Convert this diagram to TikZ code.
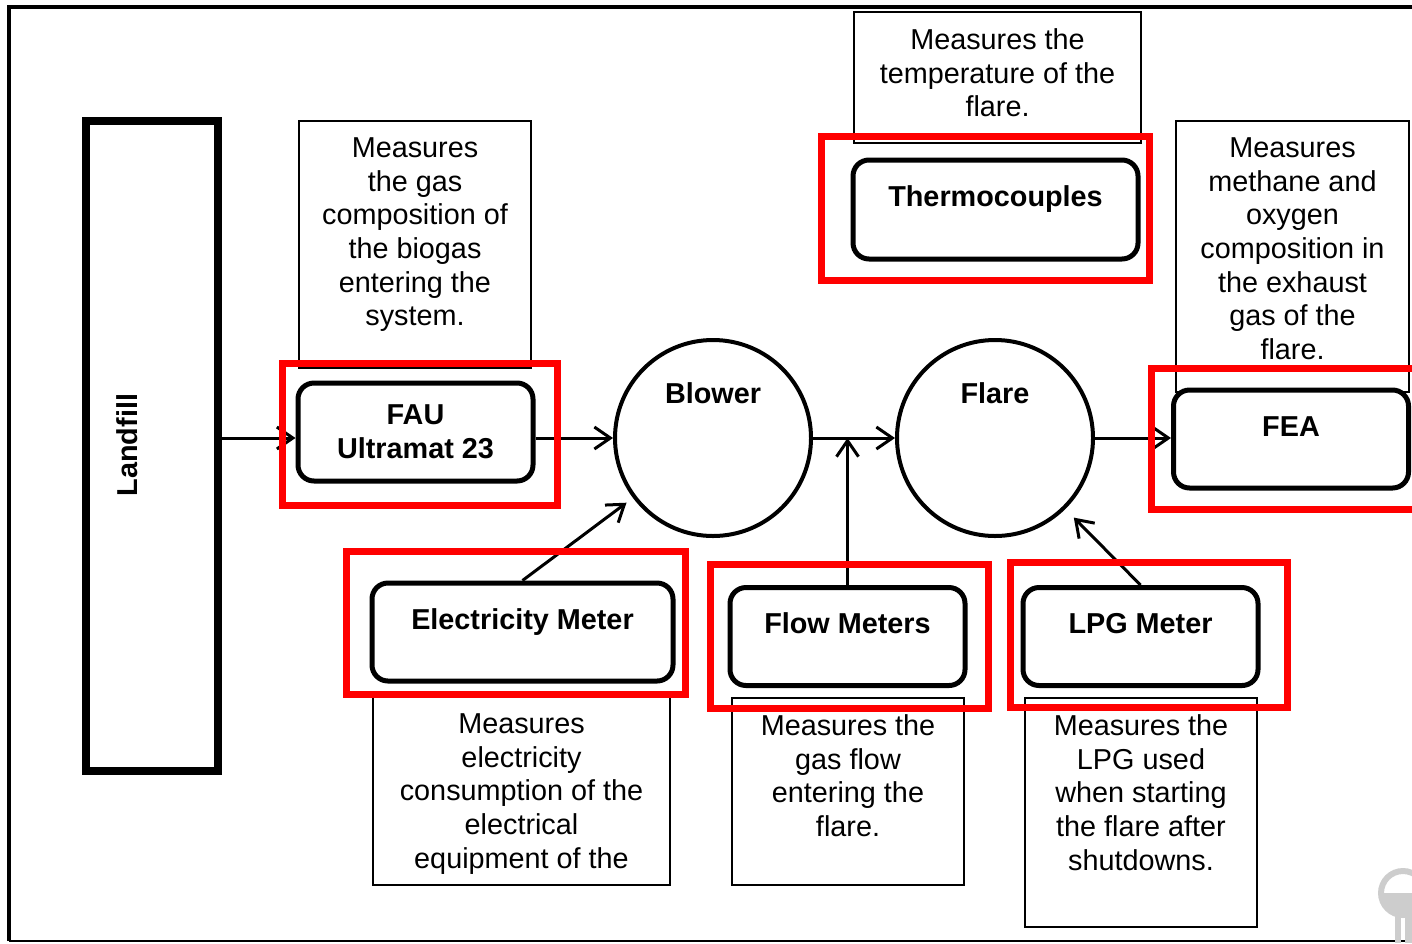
\documentclass[tikz,border=0pt]{standalone}
\usepackage{fontspec}
\setmainfont{Liberation Sans}
\usetikzlibrary{arrows.meta, positioning}
\definecolor{markred}{RGB}{255,0,0}
\definecolor{keygray}{RGB}{205,205,205}
\newcommand{\txtsize}{\fontsize{14.4}{16.8}\selectfont}

\begin{document}
\begin{tikzpicture}[x=0.5pt, y=-0.5pt, font=\txtsize,
    meter/.style={draw, line width=2.5pt, rounded corners=8pt, align=center,
        font=\txtsize\bfseries, minimum width=117.5pt, minimum height=49pt},
    oneline/.style={text height=10pt, text depth=13pt},
    unit/.style={draw, circle, line width=2pt, minimum size=98pt},
    note/.style={draw, line width=0.6pt},
    notetext/.style={align=center, inner sep=0pt},
    flow/.style={line width=1.5pt, -{Straight Barb[length=8pt, width=11pt]}},
    redmark/.style={draw=markred, line width=3.5pt}]

    \useasboundingbox (0,0) rectangle (1412,943);

    % Frame
    \draw[line width=1.8pt] (9,941) -- (9,7) -- (1430,7);
    \draw[line width=1pt] (9,941) -- (1430,941);

    % Landfill
    \node[draw, line width=4pt, minimum width=66pt, minimum height=325pt] (landfill) at (152,446) {};
    \node[rotate=90, font=\txtsize\bfseries] (landfillLabel) at (127,445) {Landfill};

    % Notes
    \node[note, minimum width=116pt, minimum height=123.5pt] (fauNote) at (415,244.5) {};
    \node[notetext, below=8.5pt of fauNote.north] (fauText)
        {Measures\\the gas\\composition of\\the biogas\\entering the\\system.};
    \node[note, minimum width=143.5pt, minimum height=65.5pt] (thermoNote) at (997.5,77.5) {};
    \node[notetext, below=8.5pt of thermoNote.north] (thermoText)
        {Measures the\\temperature of the\\flare.};
    \node[note, minimum width=116.5pt, minimum height=135.5pt] (feaNote) at (1292.5,256.5) {};
    \node[notetext, below=8.5pt of feaNote.north] (feaText)
        {Measures\\methane and\\oxygen\\composition in\\the exhaust\\gas of the\\flare.};
    \node[note, minimum width=148.5pt, minimum height=94pt] (elecNote) at (521.5,791) {};
    \node[notetext, below=8.5pt of elecNote.north] (elecText)
        {Measures\\electricity\\consumption of the\\electrical\\equipment of the};
    \node[note, minimum width=116pt, minimum height=93.5pt] (flowNote) at (848,791.5) {};
    \node[notetext, below=8.5pt of flowNote.north] (flowText)
        {Measures the\\gas flow\\entering the\\flare.};
    \node[note, minimum width=116pt, minimum height=114.5pt] (lpgNote) at (1141,812.5) {};
    \node[notetext, below=8.5pt of lpgNote.north] (lpgText)
        {Measures the\\LPG used\\when starting\\the flare after\\shutdowns.};

    % Meters
    \node[meter, fill=white] (fau) at (415.5,432) {FAU\\Ultramat 23};
    \node[meter, oneline, minimum width=142.5pt, minimum height=49.5pt] (thermo) at (995.5,209.5) {Thermocouples};
    \node[meter, oneline, fill=white] (fea) at (1291,439) {FEA};
    \node[meter, oneline, minimum width=150.5pt] (elec) at (522.5,632) {Electricity Meter};
    \node[meter, oneline, fill=white] (flow) at (847.5,636.5) {Flow Meters};
    \node[meter, oneline, fill=white] (lpg) at (1140.5,636.5) {LPG Meter};

    % Blower and flare
    \node[unit, label={[font=\txtsize\bfseries, yshift=22.5pt]center:Blower}] (blower) at (713,438) {};
    \node[unit, label={[font=\txtsize\bfseries, yshift=22.5pt]center:Flare}] (flare) at (995,438) {};

    % Gas line
    \draw[flow] (landfill.east |- blower.center) -- (fau.west |- blower.center);
    \draw[flow] (fau.east |- blower.center) -- (blower.west);
    \draw[flow] (blower.east) -- (flare.west);
    \draw[flow] (flare.east) -- (fea.west |- flare.center);
    \draw[flow] (flow.north) -- (flow.north |- blower.center);
    \draw[flow, shorten >=4pt] (elec.north) -- (blower);
    \draw[flow, shorten >=6pt] (lpg.north) -- (flare);

    % Red marks
    \draw[redmark] (282,363) rectangle (557,505.5);
    \draw[redmark] (821,136) rectangle (1149,280);
    \draw[redmark] (1151,368) rectangle (1430,509);
    \draw[redmark] (346,551) rectangle (685,694);
    \draw[redmark] (710,564) rectangle (988,708);
    \draw[redmark] (1010,562) rectangle (1287,707);

    % Key mark
    \draw[keygray, line width=3pt] (1403,893) circle[radius=11pt];
    \fill[keygray] ([xshift=-11pt]1403,893) arc[start angle=180, end angle=360, radius=11pt];
    \fill[keygray] (1395,916) rectangle (1401,943);
    \fill[keygray] (1405,916) rectangle (1412,943);
\end{tikzpicture}
\end{document}
